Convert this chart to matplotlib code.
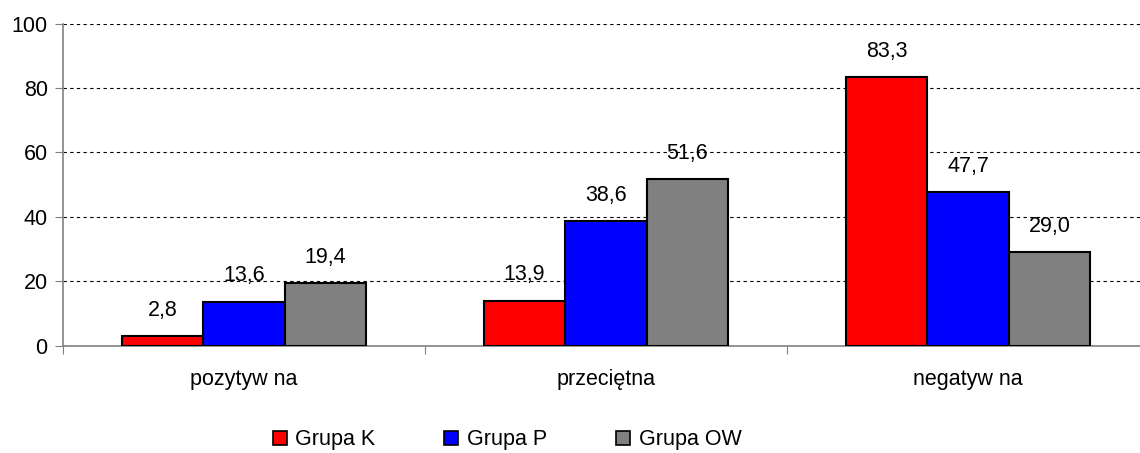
import matplotlib
matplotlib.use("Agg")
import matplotlib.pyplot as plt
from matplotlib.patches import Patch
import numpy as np

categories = ["pozytyw na", "przeciętna", "negatyw na"]
series_names = ["Grupa K", "Grupa P", "Grupa OW"]
grupa_k = [2.8, 13.9, 83.3]
grupa_p = [13.6, 38.6, 47.7]
grupa_ow = [19.4, 51.6, 29.0]
colors = ["#FF0000", "#0000FF", "#808080"]
yticks = [0, 20, 40, 60, 80, 100]

plt.rcParams['font.family'] = ['Liberation Sans', 'DejaVu Sans']
FS = 15.5

fig = plt.figure(figsize=(11.4, 4.53), dpi=100)
ax = fig.add_axes([63/1140, 1 - 345.5/453, 1086/1140, (345.5-23.5)/453])

x = np.arange(len(categories))
w = 0.225
for i, (vals, c) in enumerate(zip([grupa_k, grupa_p, grupa_ow], colors)):
    pos = x + (i - 1) * w
    bars = ax.bar(pos, vals, width=w, color=c, edgecolor='black', linewidth=1.5, zorder=3)
    for b, v in zip(bars, vals):
        ax.annotate(f"{v:.1f}".replace('.', ','), (b.get_x() + b.get_width()/2, v),
                    xytext=(0, 11), textcoords='offset points', ha='center', va='bottom',
                    fontsize=FS, zorder=4)

ax.set_xlim(-0.5, 2.5)
ax.set_ylim(0, 100)
ax.set_yticks(yticks)
ax.set_yticklabels([str(t) for t in yticks], fontsize=FS)
ax.yaxis.grid(True, linestyle=(0, (3, 3)), color='black', linewidth=0.8, zorder=0)
ax.set_axisbelow(True)

ax.set_xticks([-0.5, 0.5, 1.5, 2.5])
ax.set_xticklabels([])
ax.set_xticks(x, minor=True)
ax.set_xticklabels(categories, minor=True, fontsize=FS)
ax.tick_params(axis='x', which='minor', length=0, pad=17)
ax.tick_params(axis='x', which='major', length=6, color='#808080', direction='out')
ax.tick_params(axis='y', length=6, color='#808080', direction='out', pad=5)

for s in ['top', 'right']:
    ax.spines[s].set_visible(False)
for s in ['left', 'bottom']:
    ax.spines[s].set_color('#808080')
    ax.spines[s].set_linewidth(1.2)

handles = [Patch(facecolor=c, edgecolor='black', linewidth=1.2) for c in colors]
fig.legend(handles, series_names, loc='center', bbox_to_anchor=(507/1140, 13/453),
           ncol=3, frameon=False, fontsize=FS, handlelength=0.65, handleheight=0.65,
           handletextpad=0.4, columnspacing=3.2, borderpad=0, borderaxespad=0)

fig.savefig("out.png", dpi=100)
